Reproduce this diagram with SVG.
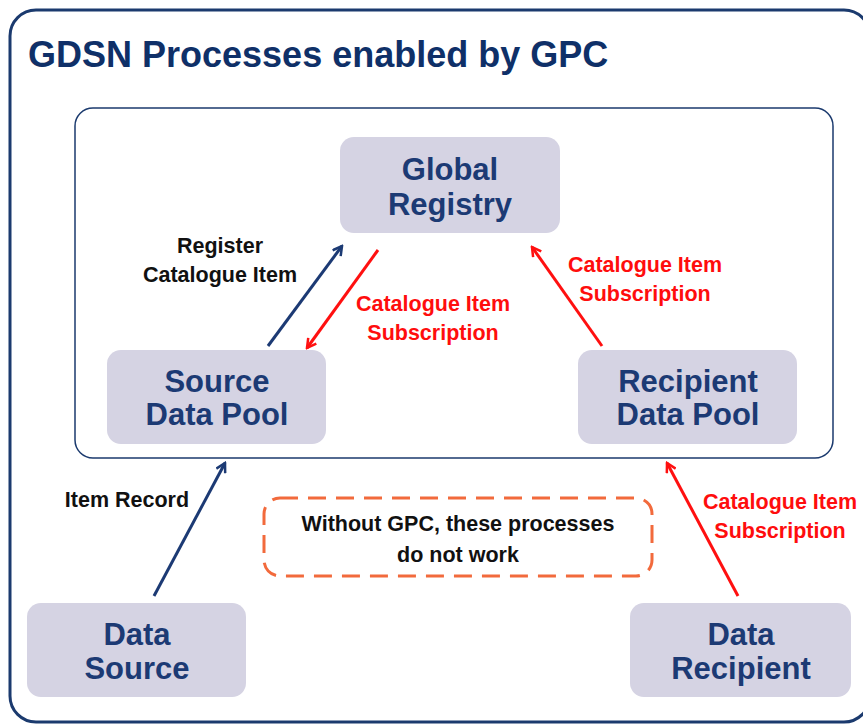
<svg xmlns="http://www.w3.org/2000/svg" width="863" height="727" viewBox="0 0 863 727">
<defs>
<style>
.frame{fill:#fff;stroke:#1b3a6e;stroke-width:3}
.inner{fill:none;stroke:#1b3a6e;stroke-width:1.5}
.node{fill:#d5d3e3}
.nt{font-family:"Liberation Sans",Arial,sans-serif;font-weight:bold;font-size:31px;fill:#1c3a74;text-anchor:middle}
.lb{font-family:"Liberation Sans",Arial,sans-serif;font-weight:bold;font-size:21.5px;text-anchor:middle}
.blk{fill:#111}
.red{fill:#ff0d0d}
.navy{stroke:#1c3a74;stroke-width:3;fill:none}
.redl{stroke:#ff1010;stroke-width:3;fill:none}
</style>
<marker id="an" viewBox="0 0 12 12" refX="10" refY="6" markerWidth="12" markerHeight="12" markerUnits="userSpaceOnUse" orient="auto"><path d="M1,1 L10,6 L1,11" fill="none" stroke="#1c3a74" stroke-width="2.5"/></marker>
<marker id="ar" viewBox="0 0 12 12" refX="10" refY="6" markerWidth="12" markerHeight="12" markerUnits="userSpaceOnUse" orient="auto"><path d="M1,1 L10,6 L1,11" fill="none" stroke="#ff1010" stroke-width="2.5"/></marker>
</defs>
<rect class="frame" x="10" y="10" width="860" height="712" rx="26"/>
<text x="28" y="67" font-family="'Liberation Sans',Arial,sans-serif" font-weight="bold" font-size="36" fill="#0f3068">GDSN Processes enabled by GPC</text>
<rect class="inner" x="75" y="108" width="758" height="350" rx="18"/>
<g id="global-registry"><rect class="node" x="340" y="137" width="220" height="96" rx="14"/><text class="nt" x="450" y="180">Global</text><text class="nt" x="450" y="215">Registry</text></g>
<g id="source-data-pool"><rect class="node" x="107" y="350" width="219" height="94" rx="14"/><text class="nt" x="217" y="392">Source</text><text class="nt" x="217" y="425">Data Pool</text></g>
<g id="recipient-data-pool"><rect class="node" x="578" y="350" width="219" height="94" rx="14"/><text class="nt" x="688" y="392">Recipient</text><text class="nt" x="688" y="425">Data Pool</text></g>
<g id="data-source"><rect class="node" x="27" y="603" width="219" height="94" rx="14"/><text class="nt" x="137" y="645">Data</text><text class="nt" x="137" y="679">Source</text></g>
<g id="data-recipient"><rect class="node" x="630" y="603" width="221" height="94" rx="14"/><text class="nt" x="741" y="645">Data</text><text class="nt" x="741" y="679">Recipient</text></g>
<g id="note"><rect x="264" y="498" width="388" height="78" rx="16" fill="none" stroke="#f26a3c" stroke-width="3" stroke-dasharray="18 10"/><text class="lb blk" x="458" y="531" font-size="25">Without GPC, these processes</text><text class="lb blk" x="458" y="562" font-size="25">do not work</text></g>
<g id="connectors">
<line class="navy" x1="268" y1="346" x2="342" y2="246" marker-end="url(#an)"/>
<line class="redl" x1="378" y1="250" x2="307" y2="348" marker-end="url(#ar)"/>
<line class="redl" x1="602" y1="346" x2="532" y2="247" marker-end="url(#ar)"/>
<line class="navy" x1="154" y1="596" x2="225" y2="463" marker-end="url(#an)"/>
<line class="redl" x1="738" y1="596" x2="667" y2="463" marker-end="url(#ar)"/>
<text class="lb blk" x="220" y="253">Register</text><text class="lb blk" x="220" y="282">Catalogue Item</text>
<text class="lb red" x="433" y="311">Catalogue Item</text><text class="lb red" x="433" y="340">Subscription</text>
<text class="lb red" x="645" y="272">Catalogue Item</text><text class="lb red" x="645" y="301">Subscription</text>
<text class="lb blk" x="127" y="507">Item Record</text>
<text class="lb red" x="780" y="509">Catalogue Item</text><text class="lb red" x="780" y="538">Subscription</text>
</g>
</svg>
